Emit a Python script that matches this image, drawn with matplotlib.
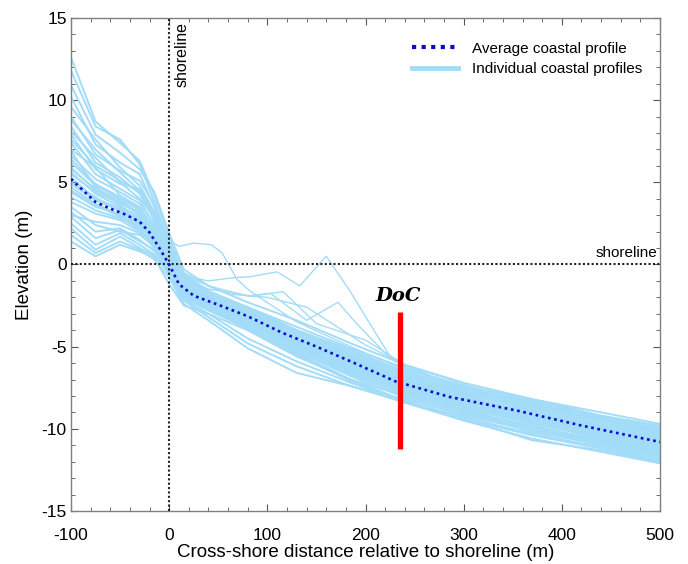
import matplotlib
matplotlib.use("Agg")
import matplotlib.pyplot as plt
from matplotlib.ticker import MultipleLocator
from matplotlib.lines import Line2D

plt.rcParams['font.family'] = ['Liberation Sans', 'DejaVu Sans']
plt.rcParams['axes.unicode_minus'] = False

# ---------------- data ----------------
x_grid = [-100, -75, -50, -30, -15, 0, 15, 40, 80, 130, 185, 240, 300, 370, 440, 500]

avg_x = [-100, -75, -60, -45, -30, -20, -10, 0, 10, 25, 50, 80, 115, 150, 185, 230, 285, 355, 420, 500]
avg_y = [5.2, 3.8, 3.4, 3.05, 2.6, 1.95, 1.0, 0.0, -1.2, -1.9, -2.45, -3.15, -4.15, -5.0, -5.9, -7.1, -8.05, -8.9, -9.8, -10.8]

profiles = [
    [12.6, 8.7, 7.4, 6.3, 4.2, 1.6, -0.6, -1.6, -2.6, -4.0, -5.2, -6.5, -7.5, -8.5, -9.4, -10.1],
    [11.8, 8.4, 7.6, 6.1, 3.8, 1.2, -0.9, -1.9, -2.9, -4.2, -5.6, -6.9, -7.9, -8.8, -9.7, -10.4],
    [10.9, 7.9, 6.8, 5.8, 4.4, 1.9, -0.3, -1.3, -2.3, -3.4, -4.8, -6.1, -7.2, -8.2, -9.0, -9.7],
    [10.2, 7.3, 6.2, 5.5, 3.5, 0.9, -1.2, -2.1, -3.3, -4.7, -6.1, -7.4, -8.5, -9.4, -10.3, -11.0],
    [9.6, 7.6, 5.9, 4.8, 3.2, 0.8, -1.0, -2.0, -3.0, -4.4, -5.8, -7.0, -8.0, -9.0, -9.9, -10.6],
    [9.0, 6.7, 5.7, 5.1, 3.6, 1.4, -0.7, -1.7, -2.8, -4.1, -5.4, -6.7, -7.7, -8.6, -9.5, -10.2],
    [8.8, 7.0, 5.6, 4.5, 3.0, 0.9, -0.9, -1.9, -3.0, -4.4, -5.9, -7.3, -8.3, -9.3, -10.2, -11.0],
    [8.4, 6.2, 5.3, 4.3, 2.7, 0.5, -1.4, -2.3, -3.4, -4.9, -6.4, -7.7, -8.8, -9.6, -10.6, -11.4],
    [8.1, 6.5, 5.0, 4.0, 2.9, 1.0, -0.8, -1.8, -2.6, -3.8, -5.1, -6.3, -7.4, -8.2, -9.2, -9.8],
    [7.9, 5.8, 4.9, 4.6, 3.1, 0.7, -1.1, -2.0, -3.1, -4.5, -5.9, -7.2, -8.2, -9.1, -10.1, -10.9],
    [7.6, 6.0, 5.1, 4.4, 2.8, 0.6, -1.1, -2.0, -2.9, -4.3, -5.7, -7.0, -8.1, -9.0, -9.9, -10.7],
    [7.4, 5.5, 4.6, 3.9, 2.4, 0.3, -1.6, -2.5, -3.6, -5.1, -6.6, -8.0, -9.0, -9.9, -10.8, -11.6],
    [7.0, 5.9, 4.2, 3.5, 2.2, 0.4, -1.3, -2.1, -3.0, -4.3, -5.6, -6.9, -7.8, -8.7, -9.6, -10.3],
    [6.9, 4.7, 3.6, 2.8, 1.7, 0.2, -1.1, -1.9, -2.7, -4.0, -5.3, -6.6, -7.6, -8.4, -9.3, -10.0],
    [6.6, 5.2, 4.4, 3.7, 2.5, 0.6, -1.2, -2.2, -3.2, -4.6, -6.0, -7.4, -8.4, -9.3, -10.2, -11.0],
    [6.4, 4.9, 4.1, 3.4, 2.2, 0.4, -1.3, -2.2, -3.1, -4.5, -5.9, -7.2, -8.2, -9.1, -10.0, -10.8],
    [6.2, 4.8, 4.0, 3.3, 2.0, 0.2, -1.5, -2.4, -3.5, -5.0, -6.5, -7.8, -8.9, -9.8, -10.7, -11.5],
    [5.9, 4.5, 3.8, 3.0, 1.8, 0.1, -1.7, -2.6, -3.7, -5.3, -6.8, -8.1, -9.2, -10.1, -11.0, -11.8],
    [5.8, 4.6, 3.9, 3.1, 2.0, 0.5, -1.0, -1.8, -2.9, -4.2, -5.5, -6.9, -7.9, -8.8, -9.8, -10.5],
    [5.6, 4.3, 3.5, 2.9, 1.9, 0.3, -1.3, -2.0, -2.9, -4.2, -5.5, -6.8, -7.7, -8.6, -9.5, -10.2],
    [5.5, 4.4, 3.7, 3.2, 2.1, 0.3, -1.5, -2.3, -3.3, -4.8, -6.3, -7.6, -8.6, -9.5, -10.4, -11.1],
    [5.3, 4.0, 3.4, 2.7, 1.6, 0.0, -1.6, -2.3, -3.2, -4.6, -5.9, -7.3, -8.3, -9.2, -10.1, -10.9],
    [5.0, 4.1, 3.2, 2.5, 1.4, -0.1, -1.8, -2.5, -3.4, -4.8, -6.2, -7.5, -8.6, -9.4, -10.4, -11.2],
    [4.9, 3.9, 3.3, 2.6, 1.6, 0.0, -1.4, -2.2, -3.1, -4.5, -5.8, -7.1, -8.1, -9.0, -9.9, -10.6],
    [4.7, 3.7, 3.0, 2.4, 1.3, -0.2, -1.9, -2.7, -3.8, -5.4, -7.0, -8.3, -9.4, -10.4, -11.2, -12.0],
    [4.5, 3.6, 2.9, 2.1, 1.1, -0.5, -1.8, -2.6, -3.6, -5.1, -6.5, -7.8, -8.8, -9.6, -10.6, -11.4],
    [4.4, 3.5, 3.1, 2.2, 1.2, -0.3, -1.4, -2.1, -3.0, -4.4, -5.7, -7.1, -8.1, -8.9, -9.9, -10.6],
    [4.1, 3.3, 2.8, 2.3, 1.5, 0.1, -1.7, -2.4, -3.3, -4.7, -6.1, -7.5, -8.5, -9.5, -10.4, -11.3],
    [3.8, 3.1, 2.7, 2.0, 1.0, -0.4, -2.0, -2.8, -3.9, -5.5, -7.1, -8.4, -9.5, -10.6, -11.4, -12.1],
    [3.5, 2.4, 2.0, 1.8, 1.1, -0.2, -1.6, -2.3, -3.2, -4.5, -5.8, -7.2, -8.2, -9.0, -10.0, -10.7],
    [3.2, 2.0, 2.2, 1.5, 0.8, -0.5, -2.1, -3.0, -4.5, -5.9, -7.2, -8.3, -9.3, -10.3, -11.1, -11.9],
    [3.0, 2.6, 2.4, 1.9, 1.2, -0.1, -1.7, -2.5, -3.5, -4.9, -6.3, -7.6, -8.7, -9.6, -10.5, -11.2],
    [2.9, 1.6, 2.1, 1.4, 0.9, -0.3, -1.8, -2.6, -3.6, -5.0, -6.4, -7.7, -8.7, -9.7, -10.5, -11.3],
    [2.5, 1.2, 1.9, 1.2, 0.6, -0.6, -2.2, -3.2, -4.8, -6.2, -7.4, -8.2, -9.1, -10.0, -10.9, -11.7],
    [2.2, 0.9, 1.7, 1.0, 0.5, -0.4, -1.9, -2.7, -3.8, -5.2, -6.7, -7.9, -8.9, -9.9, -10.8, -11.5],
    [1.8, 0.7, 1.4, 0.9, 0.3, -0.8, -2.4, -3.4, -5.1, -6.6, -7.4, -8.4, -9.4, -10.7, -11.3, -12.0],
    [1.4, 0.5, 1.2, 0.8, 0.4, -1.2, -2.5, -3.0, -4.0, -5.6, -7.0, -8.0, -9.0, -10.2, -10.9, -11.6],
]

# a few irregular profiles with nearshore bars / bumps
outlier_x = [
    [-15, 0, 10, 25, 43, 54, 69, 82, 130, 185, 240, 300, 370, 440, 500],
    [-15, 0, 15, 40, 66, 82, 110, 133, 160, 184, 225, 240, 300, 370, 440, 500],
    [-15, 0, 15, 40, 82, 103, 140, 172, 191, 225, 240, 300, 370, 440, 500],
    [-15, 0, 15, 40, 82, 116, 150, 200, 240, 300, 370, 440, 500],
    [-15, 0, 20, 60, 100, 140, 200, 240, 300, 370, 440, 500],
]
outlier_y = [
    [3.0, 1.5, 1.1, 1.3, 1.2, 0.7, -0.9, -1.6, -3.5, -5.0, -6.4, -7.4, -8.3, -9.2, -9.9],
    [2.5, 0.6, -0.7, -1.0, -0.8, -0.75, -0.45, -1.3, 0.5, -1.6, -5.6, -6.3, -7.4, -8.3, -9.2, -9.9],
    [2.2, 0.8, -0.8, -1.5, -1.9, -1.75, -3.4, -2.3, -3.6, -5.7, -6.2, -7.5, -8.4, -9.3, -10.0],
    [2.6, 1.0, -0.5, -1.3, -1.95, -1.65, -3.6, -4.6, -6.1, -7.6, -8.5, -9.4, -10.1],
    [1.9, 0.5, -0.8, -1.8, -2.0, -2.6, -4.9, -6.1, -7.3, -8.4, -9.3, -10.0],
]

doc_x = 235
doc_y = [-2.9, -11.2]

# ---------------- figure ----------------
fig = plt.figure(figsize=(6.88, 5.64), dpi=100)
ax = fig.add_axes([0.1032, 0.0940, 0.8561, 0.8741])

profile_color = '#a3dcf8'
for p in profiles:
    ax.plot(x_grid, p, color=profile_color, lw=1.4, zorder=2)
for xs, ys in zip(outlier_x, outlier_y):
    ax.plot(xs, ys, color=profile_color, lw=1.0, zorder=2)

# shoreline reference lines
ax.axvline(0, color='#222222', lw=1.5, dashes=(1, 1.1), zorder=3)
ax.axhline(0, color='#222222', lw=1.5, dashes=(1, 1.1), zorder=3)

ax.plot(avg_x, avg_y, color='#0a0acc', lw=1.9, dashes=(1, 1.4), zorder=4)

ax.plot([doc_x, doc_x], doc_y, color='#ff0000', lw=3.8, solid_capstyle='butt', zorder=5)
ax.text(doc_x - 2, -1.9, 'DoC', family='DejaVu Serif', fontweight='bold', fontstyle='italic',
        fontsize=14, ha='center', va='center', zorder=6)

ax.text(6, 14.75, 'shoreline', rotation=90, ha='left', va='top', fontsize=11.5)
ax.text(497, 0.3, 'shoreline', ha='right', va='bottom', fontsize=11)

# legend
h_avg = Line2D([], [], color='#0a0acc', lw=3, dashes=(1, 1.3))
h_ind = Line2D([], [], color=profile_color, lw=3.5)
ax.legend([h_avg, h_ind], ['Average coastal profile', 'Individual coastal profiles'],
          loc='upper right', bbox_to_anchor=(0.993, 0.98), frameon=False,
          fontsize=11, handlelength=3.0, handletextpad=0.9, labelspacing=0.45)

ax.set_xlim(-100, 500)
ax.set_ylim(-15, 15)
ax.xaxis.set_major_locator(MultipleLocator(100))
ax.xaxis.set_minor_locator(MultipleLocator(20))
ax.yaxis.set_major_locator(MultipleLocator(5))
ax.yaxis.set_minor_locator(MultipleLocator(1))
ax.tick_params(which='both', direction='in', top=True, right=True, color='#555555',
               labelsize=12.5)
ax.tick_params(axis='x', which='major', pad=12)
ax.tick_params(axis='y', which='major', pad=3)
ax.tick_params(which='major', length=5)
ax.tick_params(which='minor', length=3)
for s in ax.spines.values():
    s.set_color('#808080')
    s.set_linewidth(1.0)

ax.set_xlabel('Cross-shore distance relative to shoreline (m)', fontsize=13.5, labelpad=1)
ax.set_ylabel('Elevation (m)', fontsize=13.5, labelpad=6)

fig.savefig('out.png', dpi=100)
